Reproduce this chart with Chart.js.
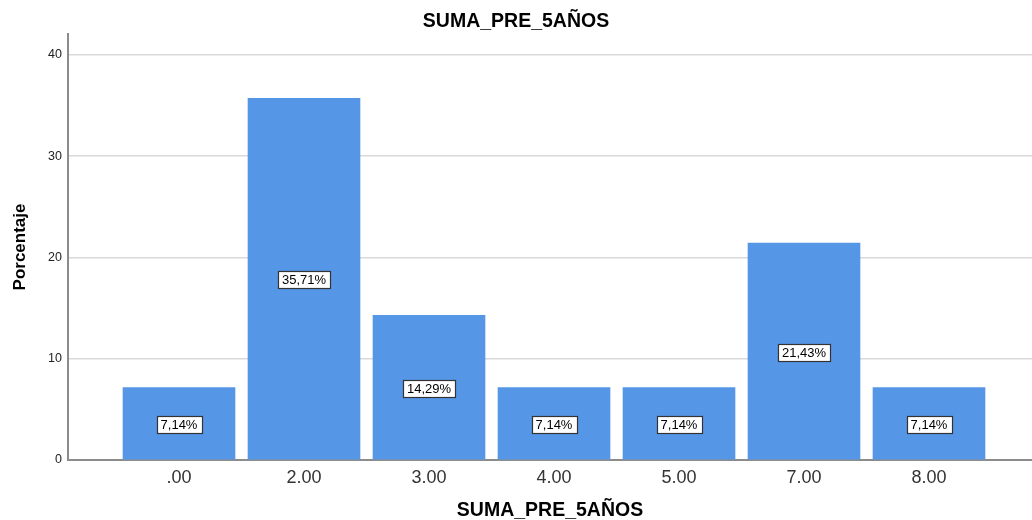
<!DOCTYPE html>
<html><head><meta charset="utf-8">
<script src="https://cdn.jsdelivr.net/npm/chart.js@4"></script>
<style>html,body{margin:0;padding:0;background:#fff}#wrap{width:1032px;height:520px}</style>
</head><body><div id="wrap"><canvas id="c" width="1032" height="520"></canvas></div>
<script>
const categories = ['.00','2.00','3.00','4.00','5.00','7.00','8.00'];
const percentages = [7.14, 35.71, 14.29, 7.14, 7.14, 21.43, 7.14];
const valueLabels = ['7,14%','35,71%','14,29%','7,14%','7,14%','21,43%','7,14%'];
const yTicks = [0, 10, 20, 30, 40];
const chartTitle = 'SUMA_PRE_5AÑOS';
const xTitle = 'SUMA_PRE_5AÑOS';
const yTitle = 'Porcentaje';

const FONT = '"Liberation Sans", Arial, sans-serif';

const labelPlugin = {
  id: 'boxLabels',
  afterDatasetsDraw(chart) {
    const ctx = chart.ctx;
    const meta = chart.getDatasetMeta(0);
    ctx.save();
    ctx.font = '13px ' + FONT;
    ctx.textAlign = 'center';
    ctx.textBaseline = 'middle';
    meta.data.forEach((bar, i) => {
      const txt = valueLabels[i];
      const cy = (bar.y + bar.base) / 2 + 1;
      const w = Math.round(ctx.measureText(txt).width + 8);
      const h = 17;
      const x0 = Math.round(bar.x - w / 2) + 0.5, y0 = Math.round(cy - h / 2) + 0.5;
      ctx.fillStyle = '#ffffff';
      ctx.fillRect(x0, y0, w, h);
      ctx.strokeStyle = '#333333';
      ctx.lineWidth = 1.2;
      ctx.strokeRect(x0, y0, w, h);
      ctx.fillStyle = '#000000';
      ctx.fillText(txt, bar.x, cy + 1);
    });
    ctx.restore();
  }
};

new Chart(document.getElementById('c'), {
  type: 'bar',
  data: {
    datasets: [{
      data: percentages.map((v, i) => ({x: i, y: v})),
      backgroundColor: '#5596E6',
      borderWidth: 0,
      barThickness: 112
    }]
  },
  options: {
    responsive: false,
    animation: false,
    layout: {padding: {left: 0, right: 0, top: 0, bottom: 0}},
    plugins: {
      legend: {display: false},
      tooltip: {enabled: false},
      title: {
        display: true, text: chartTitle, color: '#000',
        font: {family: FONT, size: 19.5, weight: 'bold'},
        padding: {top: 10, bottom: 0.6}
      }
    },
    scales: {
      x: {
        type: 'linear',
        offset: false,
        min: -0.888, max: 6.824,
        afterBuildTicks: s => { s.ticks = categories.map((c, i) => ({value: i})); },
        afterFit: s => { s.height = 60; },
        ticks: {
          callback: v => categories[v],
          color: '#333', font: {family: FONT, size: 18}, padding: 7, maxRotation: 0, autoSkip: false
        },
        grid: {display: false, drawTicks: false},
        border: {display: true, color: '#8c8c8c', width: 2},
        title: {display: true, text: xTitle, color: '#000', font: {family: FONT, size: 19.5, weight: 'bold', lineHeight: 1}, padding: {top: 0, bottom: 0}}
      },
      y: {
        min: 0, max: 42.07,
        afterBuildTicks: s => { s.ticks = yTicks.map(v => ({value: v})); },
        afterFit: s => { s.width = 68; },
        ticks: {color: '#222', font: {family: FONT, size: 12.5}, padding: 6},
        grid: {color: '#d9d9d9', lineWidth: 1.5, drawTicks: false},
        border: {display: true, color: '#8c8c8c', width: 2},
        title: {display: true, text: yTitle, color: '#000', font: {family: FONT, size: 17, weight: 'bold'}, padding: {top: 10.5, bottom: 0}}
      }
    }
  },
  plugins: [labelPlugin]
});
</script></body></html>
